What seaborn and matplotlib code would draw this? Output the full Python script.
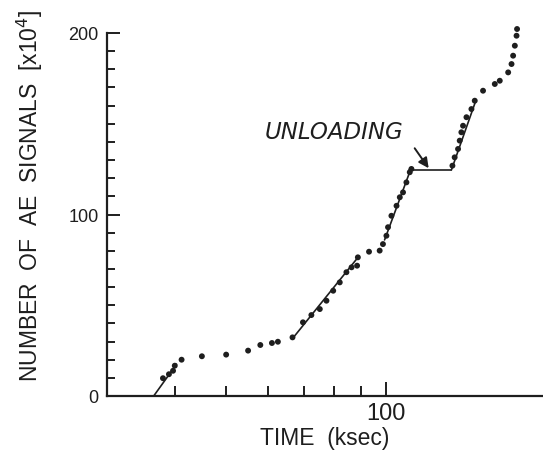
import matplotlib
matplotlib.use("Agg")
import matplotlib.pyplot as plt
import seaborn as sns
import pandas as pd
from matplotlib.ticker import FixedLocator, NullFormatter, FixedFormatter

# ---- data (TIME in ksec, AE signals in units of 1e4) ----
time_pts = [38.0, 39.0, 39.7, 40.0, 41.2,
            45.0, 50.0, 55.0, 58.0, 61.0, 62.6,
            66.7, 69.8, 72.4, 75.1, 77.3, 79.6, 81.9, 84.3, 86.2, 88.3, 88.6,
            93.0, 97.4, 98.8, 100.3, 101.0, 102.5, 104.8, 106.3, 107.8, 109.4, 111.0, 111.8,
            133.6, 134.9, 136.9, 137.9, 138.9, 139.9, 142.0, 145.1, 147.2, 152.6,
            160.6, 164.1, 170.2, 172.7, 173.9, 175.2, 176.5, 176.9]
ae_pts = [9.8, 12.0, 13.9, 16.7, 20.0,
          21.9, 22.8, 25.0, 28.1, 29.2, 29.9,
          32.3, 40.6, 44.6, 47.9, 52.5, 58.0, 62.6, 68.2, 70.9, 71.8, 76.4,
          79.5, 80.1, 83.7, 88.3, 93.0, 99.3, 104.8, 109.5, 112.2, 117.7, 123.3, 125.1,
          126.9, 131.5, 136.1, 140.7, 145.3, 148.9, 153.6, 158.1, 162.7, 168.2,
          171.9, 173.7, 178.3, 182.9, 187.5, 193.0, 198.5, 202.2]

# fitted / drawn line segments
seg_id = [1, 1, 2, 2, 3, 3, 4, 4, 5, 5]
seg_time = [36.5, 40.3, 66.6, 89.0, 99.5, 111.5, 110.5, 133.0, 133.0, 148.0]
seg_ae = [0.0, 17.5, 31.4, 77.0, 86.0, 125.0, 124.5, 124.5, 124.5, 163.0]

x_major = [100]
x_major_labels = ["100"]
x_minor = [40, 50, 60, 70, 80, 90]
y_major = [0, 100, 200]
y_minor = list(range(10, 200, 10))

annot_text = "UNLOADING"
annot_text_xy = (80.0, 145.5)
arrow_tail = (113.4, 136.5)
arrow_head = (120.5, 125.5)

# ---- figure ----
sns.set_style("white")
plt.rcParams["font.family"] = ["Liberation Sans", "DejaVu Sans"]
ink = "#1e1e1e"

fig = plt.figure(figsize=(5.43, 4.56), dpi=100)
ax = fig.add_axes([107 / 543, 1 - 397 / 456, 1 - 107 / 543, (397 - 34) / 456])

pts = pd.DataFrame({"time": time_pts, "ae": ae_pts})
segs = pd.DataFrame({"seg": seg_id, "time": seg_time, "ae": seg_ae})

sns.lineplot(data=segs, x="time", y="ae", units="seg", estimator=None,
             color=ink, linewidth=1.2, ax=ax, legend=False)
sns.scatterplot(data=pts, x="time", y="ae", color=ink, s=18, edgecolor="none",
                ax=ax, legend=False, clip_on=False)

ax.set_xscale("log")
ax.set_xlim(29.8, 198)
ax.set_ylim(0, 200)

ax.xaxis.set_major_locator(FixedLocator(x_major))
ax.xaxis.set_major_formatter(FixedFormatter(x_major_labels))
ax.xaxis.set_minor_locator(FixedLocator(x_minor))
ax.xaxis.set_minor_formatter(NullFormatter())
ax.yaxis.set_major_locator(FixedLocator(y_major))
ax.yaxis.set_minor_locator(FixedLocator(y_minor))

ax.tick_params(axis="x", which="major", direction="in", length=10, width=1.4,
               color=ink, labelsize=17, pad=4, labelcolor=ink, bottom=True)
ax.tick_params(axis="x", which="minor", direction="in", length=7, width=1.4,
               color=ink, bottom=True)
ax.tick_params(axis="y", which="major", direction="in", length=9, width=1.4,
               color=ink, labelsize=13, pad=6, labelcolor=ink, left=True)
ax.tick_params(axis="y", which="minor", direction="in", length=6, width=1.4,
               color=ink, left=True)

for s in ["top", "right"]:
    ax.spines[s].set_visible(False)
for s in ["left", "bottom"]:
    ax.spines[s].set_linewidth(1.6)
    ax.spines[s].set_color(ink)

ax.set_xlabel("TIME  (ksec)", fontsize=16.5, color=ink, labelpad=2)
ax.set_ylabel("")
fig.text(30 / 543, 1 - 196 / 456, "NUMBER  OF  AE  SIGNALS  [x10$^4$]",
         rotation=90, ha="center", va="center", fontsize=16.5, color=ink)

ax.text(annot_text_xy[0], annot_text_xy[1], annot_text, fontsize=16.5,
        style="italic", color=ink, ha="center", va="center",
        family="DejaVu Sans")
ax.annotate("", xy=arrow_head, xytext=arrow_tail,
            arrowprops=dict(arrowstyle="-|>,head_length=0.6,head_width=0.3",
                            color=ink, lw=1.4, shrinkA=0, shrinkB=0),
            annotation_clip=False)

fig.savefig("out.png", dpi=100, facecolor="white")
